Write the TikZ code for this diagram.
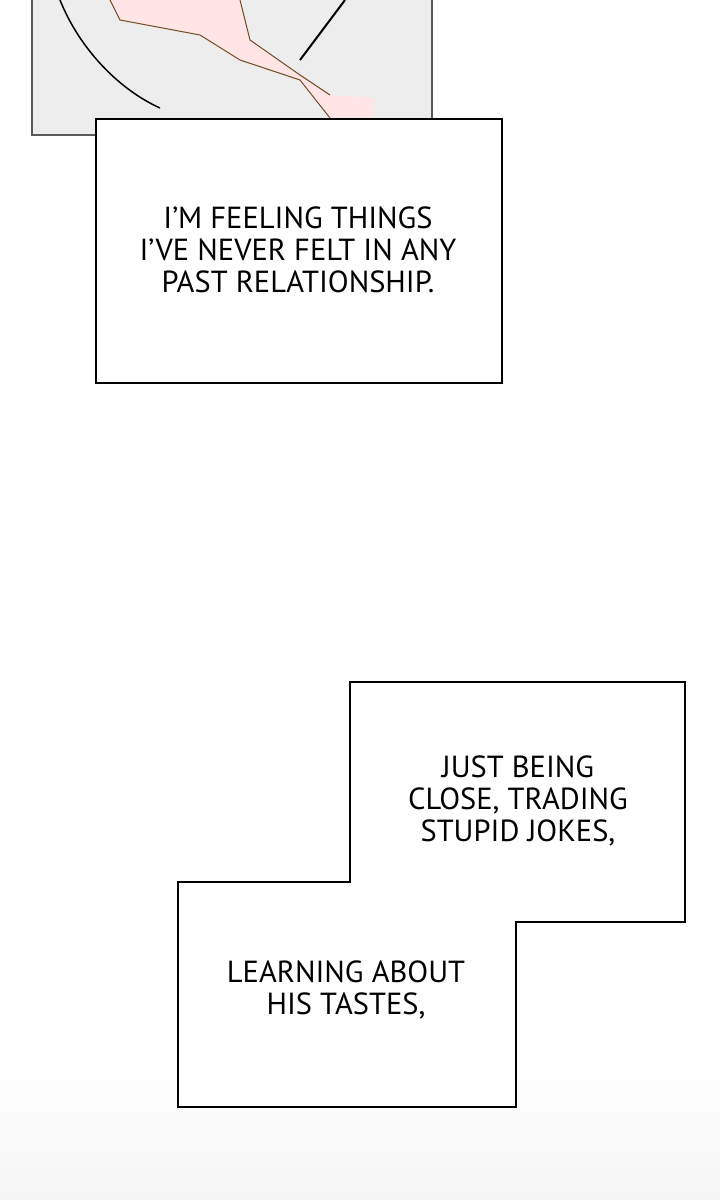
\documentclass[tikz,border=0pt]{standalone}
\usepackage{fontspec}
\setmainfont{PT Sans}
\begin{document}
\begin{tikzpicture}[x=1pt,y=-1pt,
  box/.style={draw=black,line width=2pt,fill=white},
  txt/.style={align=center,font=\fontsize{30.5}{32}\selectfont,text=black}]
\useasboundingbox (0,0) rectangle (720,1200);
\fill[white] (0,0) rectangle (720,1200);
\shade[top color=white,bottom color=black!4] (0,1060) rectangle (720,1200);
% top panel
\fill[gray!14] (32,0) rectangle (432,135);
\draw[line width=1.5pt,gray!70!black] (32,0) -- (32,135) -- (432,135) -- (432,0);
\fill[pink!40!white] (110,0) -- (240,0) -- (250,40) -- (300,75) -- (330,95) -- (375,98) -- (372,118) -- (330,118) -- (300,80) -- (240,60) -- (200,35) -- (120,20) -- cycle;
\draw[line width=1pt,brown!60!black] (110,0) -- (120,20) -- (200,35) -- (240,60) -- (300,80) -- (330,118);
\draw[line width=1pt,brown!60!black] (240,0) -- (250,40) -- (300,75) -- (330,95);
\draw[line width=2pt,black] (300,60) -- (345,0);
\draw[line width=1.5pt,black] (60,0) .. controls (80,50) and (120,90) .. (160,108);
% box 1
\node[box,minimum width=406,minimum height=264,anchor=north west] (b1) at (95,118) {};
\node[txt] (t1) at (298,250) {I'M FEELING THINGS\\I'VE NEVER FELT IN ANY\\PAST RELATIONSHIP.};
% box 2
\draw[box] (350,682) -- (685,682) -- (685,922) -- (516,922) -- (516,1107) -- (178,1107) -- (178,882) -- (350,882) -- cycle;
\node[txt] (t2) at (518,801) {JUST BEING\\CLOSE, TRADING\\STUPID JOKES,};
\node[txt] (t3) at (346,990) {LEARNING ABOUT\\HIS TASTES,};
\end{tikzpicture}
\end{document}
